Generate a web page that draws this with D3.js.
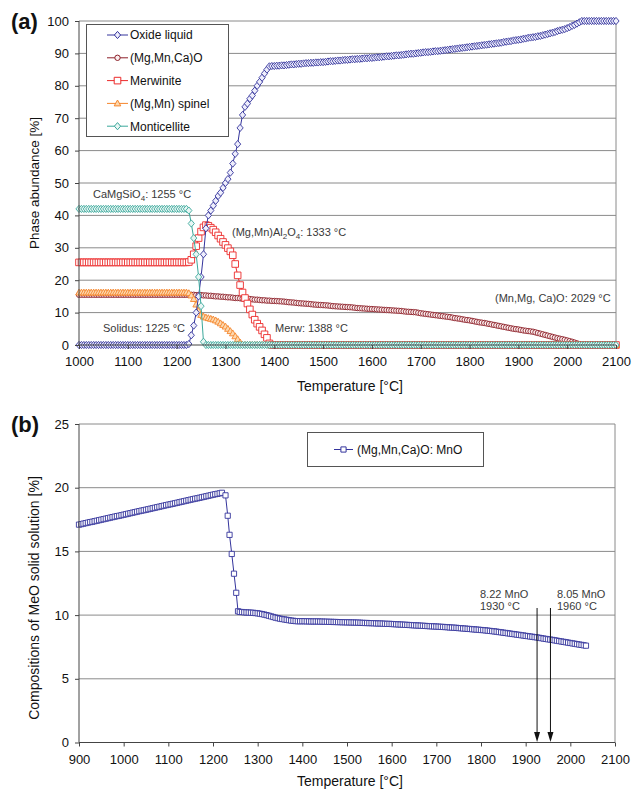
<!DOCTYPE html>
<html>
<head>
<meta charset="UTF-8">
<title>Phase abundance and MeO composition</title>
<script src="https://d3js.org/d3.v7.min.js"></script>
<style>
    body { margin: 0; background: #fff; }
    svg text { font-family: "Liberation Sans", Arial, sans-serif; fill: #111; }
    .tick text { font-size: 13px; }
    .axis path, .axis line { stroke: #444; }
    .grid line { stroke: #8a8a8a; stroke-width: 1; }
    .note { font-size: 11px; fill: #3a3a3a; }
    .legend text { font-size: 12px; }
</style>
</head>
<body>
<svg id="chart" width="633" height="789"></svg>
<script>
// ---------- panel (a) : phase abundance, 5 °C steps ----------
const tempA = d3.range(1000, 2101, 5);

const oxideLiquid = [
    0,0,0,0,0,0,0,0,0,0, 0,0,0,0,0,0,0,0,0,0, 0,0,0,0,0,0,0,0,0,0, 0,0,0,0,0,0,0,0,0,0, 0,0,0,0,
    0,0.3,3,6,10,15,21,28,36,40, 41.5,43,44.5,46,47,48.5,50,51.2,53.2,56,
    59,62,67,71,73.5,74.5,76,77,78.5,80, 81.2,82.5,83.8,85,86,86.1,
    86.1,86.2,86.2,86.3,86.3,86.4,86.5,86.6,86.6,86.7, 86.8,86.8,86.9,87.0,87.0,87.1,87.1,87.2,87.2,87.3,
    87.3,87.4,87.5,87.6,87.6,87.7,87.8,87.8,87.9,88.0, 88.0,88.1,88.2,88.2,88.3,88.3,88.4,88.5,88.5,88.6,
    88.6,88.7,88.8,88.8,88.9,89.0,89.1,89.1,89.2,89.3, 89.4,89.4,89.5,89.6,89.7,89.8,89.9,89.9,90.0,90.1,
    90.2,90.3,90.4,90.4,90.5,90.6,90.7,90.7,90.8,90.9, 91.0,91.1,91.2,91.3,91.4,91.5,91.6,91.7,91.8,91.9,
    92.0,92.1,92.2,92.3,92.4,92.5,92.6,92.7,92.8,92.9, 93.0,93.1,93.2,93.3,93.5,93.6,93.7,93.8,94.0,94.1,
    94.2,94.3,94.5,94.6,94.8,94.9,95.0,95.1,95.3,95.4, 95.6,95.8,96.0,96.2,96.4,96.6,96.9,97.1,97.3,97.5,
    97.8,98.1,98.5,98.8,99.2,99.6,100,100,100,100, 100,100,100,100,100,100,100,100,100,100,
    100
];
const mgMnCaO = [
    15.5,15.5,15.5,15.5,15.5,15.5,15.5,15.5,15.5,15.5, 15.5,15.5,15.5,15.5,15.5,15.5,15.5,15.5,15.5,15.5,
    15.5,15.5,15.5,15.5,15.5,15.5,15.5,15.5,15.5,15.5, 15.5,15.5,15.5,15.5,15.5,15.5,15.5,15.5,15.5,15.5,
    15.5,15.5,15.5,15.5,
    15.5,15.5,15.5,15.5,15.4,15.4,15.4,15.3,15.3,15.2, 15.2,15.1,15.0,15.0,14.9,14.9,14.8,14.7,14.7,14.6,
    14.5,14.5,14.4,14.3,14.3,14.2,14.2,14.1,14.0,14.0, 13.9,13.8,13.8,13.7,13.7,13.6,
    13.6,13.55,13.5,13.45,13.4,13.3,13.2,13.15,13.1,13.0, 12.9,12.85,12.8,12.75,12.7,12.6,12.5,12.45,12.4,12.35,
    12.3,12.25,12.2,12.1,12.0,11.95,11.9,11.85,11.8,11.75, 11.7,11.65,11.6,11.5,11.4,11.35,11.3,11.25,11.2,11.15,
    11.1,11.05,11.0,10.95,10.9,10.85,10.8,10.75,10.7,10.65, 10.6,10.55,10.5,10.4,10.3,10.25,10.2,10.15,10.1,9.95,
    9.8,9.7,9.6,9.5,9.4,9.3,9.2,9.1,9.0,8.9, 8.8,8.7,8.6,8.45,8.3,8.2,8.1,7.95,7.8,7.7,
    7.6,7.45,7.3,7.15,7.0,6.9,6.8,6.65,6.5,6.35, 6.2,6.05,5.9,5.75,5.6,5.45,5.3,5.15,5.0,4.9,
    4.8,4.65,4.5,4.4,4.3,4.2,4.1,3.9,3.7,3.5, 3.3,3.1,2.9,2.7,2.5,2.3,2.1,1.95,1.8,1.6,
    1.4,1.2,1.0,0.75,0.5,0.25,0,0,0,0, 0,0,0,0,0,0,0,0,0,0,
    0
];
const merwinite = [
    25.5,25.5,25.5,25.5,25.5,25.5,25.5,25.5,25.5,25.5, 25.5,25.5,25.5,25.5,25.5,25.5,25.5,25.5,25.5,25.5,
    25.5,25.5,25.5,25.5,25.5,25.5,25.5,25.5,25.5,25.5, 25.5,25.5,25.5,25.5,25.5,25.5,25.5,25.5,25.5,25.5,
    25.5,25.5,25.5,25.5,
    25.5,25.6,26.3,28.0,30.5,33.0,35.0,36.3,37.0,36.8, 36.2,35.6,34.8,33.8,32.8,31.8,30.9,29.9,28.9,27.7,
    25.0,21.5,18.5,16.2,14.5,12.8,11.0,9.4,7.8,6.6, 5.6,4.5,3.3,2.2,0.5,0,
    0,0,0,0,0,0,0,0,0,0, 0,0,0,0,0,0,0,0,0,0, 0,0,0,0,0,0,0,0,0,0, 0,0,0,0,0,0,0,0,0,0,
    0,0,0,0,0,0,0,0,0,0, 0,0,0,0,0,0,0,0,0,0, 0,0,0,0,0,0,0,0,0,0, 0,0,0,0,0,0,0,0,0,0,
    0,0,0,0,0,0,0,0,0,0, 0,0,0,0,0,0,0,0,0,0, 0,0,0,0,0,0,0,0,0,0, 0,0,0,0,0,0,0,0,0,0,
    0,0,0,0,0,0,0,0,0,0, 0,0,0,0,0,0,0,0,0,0, 0
];
const mgMnSpinel = [
    16.2,16.2,16.2,16.2,16.2,16.2,16.2,16.2,16.2,16.2, 16.2,16.2,16.2,16.2,16.2,16.2,16.2,16.2,16.2,16.2,
    16.2,16.2,16.2,16.2,16.2,16.2,16.2,16.2,16.2,16.2, 16.2,16.2,16.2,16.2,16.2,16.2,16.2,16.2,16.2,16.2,
    16.2,16.2,16.2,16.2,
    16.2,16.0,15.3,14.2,12.5,10.5,9.3,8.8,8.5,8.3, 8.1,7.9,7.6,7.2,6.7,6.2,5.7,5.0,4.3,3.6,
    2.7,1.8,0.8,0,0,0,0,0,0,0, 0,0,0,0,0,0,
    0,0,0,0,0,0,0,0,0,0, 0,0,0,0,0,0,0,0,0,0, 0,0,0,0,0,0,0,0,0,0, 0,0,0,0,0,0,0,0,0,0,
    0,0,0,0,0,0,0,0,0,0, 0,0,0,0,0,0,0,0,0,0, 0,0,0,0,0,0,0,0,0,0, 0,0,0,0,0,0,0,0,0,0,
    0,0,0,0,0,0,0,0,0,0, 0,0,0,0,0,0,0,0,0,0, 0,0,0,0,0,0,0,0,0,0, 0,0,0,0,0,0,0,0,0,0,
    0,0,0,0,0,0,0,0,0,0, 0,0,0,0,0,0,0,0,0,0, 0
];
const monticellite = [
    42,42,42,42,42,42,42,42,42,42, 42,42,42,42,42,42,42,42,42,42,
    42,42,42,42,42,42,42,42,42,42, 42,42,42,42,42,42,42,42,42,42,
    42,42,42,42,
    42,41.5,37.5,33,28,21,12,1,0,0, 0,0,0,0,0,0,0,0,0,0,
    0,0,0,0,0,0,0,0,0,0, 0,0,0,0,0,0,
    0,0,0,0,0,0,0,0,0,0, 0,0,0,0,0,0,0,0,0,0, 0,0,0,0,0,0,0,0,0,0, 0,0,0,0,0,0,0,0,0,0,
    0,0,0,0,0,0,0,0,0,0, 0,0,0,0,0,0,0,0,0,0, 0,0,0,0,0,0,0,0,0,0, 0,0,0,0,0,0,0,0,0,0,
    0,0,0,0,0,0,0,0,0,0, 0,0,0,0,0,0,0,0,0,0, 0,0,0,0,0,0,0,0,0,0, 0,0,0,0,0,0,0,0,0,0,
    0,0,0,0,0,0,0,0,0,0, 0,0,0,0,0,0,0,0,0,0, 0
];

// ---------- panel (b) : MnO in (Mg,Mn,Ca)O ----------
const tempB = d3.range(900, 1221, 5).concat([1228, 1233, 1237, 1242, 1247, 1252, 1256], d3.range(1260, 2036, 5));
const mnO = [
    17.10,17.14,17.18,17.22,17.26,17.30,17.33,17.37,17.41,17.45,
    17.49,17.53,17.57,17.61,17.65,17.69,17.73,17.77,17.80,17.84,
    17.88,17.92,17.96,18.00,18.04,18.08,18.12,18.16,18.20,18.23,
    18.27,18.31,18.35,18.39,18.43,18.47,18.51,18.55,18.59,18.63,
    18.67,18.70,18.74,18.78,18.82,18.86,18.90,18.94,18.98,19.02,
    19.06,19.10,19.14,19.17,19.21,19.25,19.29,19.33,19.37,19.41,
    19.45,19.49,19.52,19.56,19.60,
    19.4,17.8,16.3,14.8,13.25,11.75,10.3,
    10.25,10.24,10.22,10.21,10.20,10.19,10.18,10.16,10.14,10.11,
    10.08,10.04,10.00,9.95,9.90,9.85,9.80,9.76,9.72,9.69,
    9.66,9.63,9.60,9.57,9.55,9.53,9.52,9.52,9.52,9.52,
    9.51,9.51,9.50,9.50,9.50,9.50,9.49,9.49,9.48,9.48,
    9.47,9.47,9.46,9.46,9.45,9.45,9.44,9.44,9.43,9.43,
    9.42,9.42,9.41,9.41,9.40,9.39,9.38,9.38,9.37,9.37,
    9.36,9.35,9.34,9.34,9.33,9.32,9.31,9.31,9.30,9.29,
    9.28,9.27,9.26,9.25,9.24,9.23,9.22,9.21,9.20,9.19,
    9.18,9.17,9.16,9.15,9.14,9.13,9.12,9.11,9.10,9.09,
    9.08,9.07,9.06,9.05,9.03,9.02,9.01,9.00,8.98,8.97,
    8.95,8.94,8.92,8.91,8.89,8.88,8.86,8.85,8.83,8.82,
    8.80,8.78,8.76,8.74,8.72,8.70,8.67,8.65,8.62,8.60,
    8.57,8.55,8.52,8.50,8.47,8.45,8.42,8.40,8.37,8.35,
    8.32,8.30,8.27,8.25,8.22,8.19,8.16,8.13,8.10,8.08,
    8.05,8.02,7.99,7.96,7.93,7.90,7.87,7.84,7.81,7.78,
    7.75,7.72,7.69,7.66,7.63,7.60
];

const ticksXA = d3.range(1000, 2101, 100);
const ticksYA = d3.range(0, 101, 10);
const ticksXB = d3.range(900, 2101, 100);
const ticksYB = d3.range(0, 26, 5);

const shapes = {
    diamond: "M0,-3.6L3.1,0L0,3.6L-3.1,0Z",
    circle: "M-2.7,0A2.7,2.7 0 1,0 2.7,0A2.7,2.7 0 1,0 -2.7,0Z",
    square: "M-3.3,-3.3H3.3V3.3H-3.3Z",
    smallSquare: "M-2.6,-2.6H2.6V2.6H-2.6Z",
    triangle: "M0,-3.4L3.3,2.5H-3.3Z"
};

const seriesA = [
    {name: "Oxide liquid", values: oxideLiquid, color: "#34349c", fill: "#eeeefc", shape: "diamond"},
    {name: "(Mg,Mn,Ca)O", values: mgMnCaO, color: "#8c1f28", fill: "#fbeeee", shape: "circle"},
    {name: "Merwinite", values: merwinite, color: "#ec2a2a", fill: "#ffffff", shape: "square"},
    {name: "(Mg,Mn) spinel", values: mgMnSpinel, color: "#f5862c", fill: "#fcd9b0", shape: "triangle"},
    {name: "Monticellite", values: monticellite, color: "#3ba89b", fill: "#e8f6f4", shape: "diamond"}
];
// drawing order (last on top)
const drawOrder = [1, 2, 3, 0, 4];

const svg = d3.select("#chart");

const xA = d3.scaleLinear().domain([1000, 2100]).range([79, 616]);
const yA = d3.scaleLinear().domain([0, 100]).range([345, 21]);
const xB = d3.scaleLinear().domain([900, 2100]).range([79, 615]);
const yB = d3.scaleLinear().domain([0, 25]).range([742.5, 424]);

function drawFrame(x, y, yt) {
    const g = svg.append("g").attr("class", "grid");
    g.selectAll("line.h").data(yt.filter(d => d > 0)).join("line")
        .attr("x1", x.range()[0]).attr("x2", x.range()[1])
        .attr("y1", d => y(d)).attr("y2", d => y(d));
    g.append("line")
        .attr("x1", x.range()[1]).attr("x2", x.range()[1])
        .attr("y1", y.range()[1]).attr("y2", y.range()[0]);
}

function drawAxes(x, y, xt, yt, pad) {
    svg.append("g").attr("class", "axis")
        .attr("transform", `translate(0,${y.range()[0]})`)
        .call(d3.axisBottom(x).tickValues(xt).tickSize(4).tickPadding(pad).tickFormat(d3.format("d")))
        .call(g => g.select(".domain").attr("d", `M${x.range()[0]},0H${x.range()[1]}`));
    svg.append("g").attr("class", "axis")
        .attr("transform", `translate(${x.range()[0]},0)`)
        .call(d3.axisLeft(y).tickValues(yt).tickSize(4).tickPadding(6).tickFormat(d3.format("d")))
        .call(g => g.select(".domain").attr("d", `M0,${y.range()[1]}V${y.range()[0]}`));
    svg.selectAll(".axis text").attr("fill", "#111");
}

function drawSeries(temps, values, x, y, color, fill, shape) {
    const pts = temps.map((t, i) => [t, values[i]]);
    const g = svg.append("g");
    g.append("path").datum(pts)
        .attr("fill", "none").attr("stroke", color).attr("stroke-width", 1)
        .attr("d", d3.line().x(d => x(d[0])).y(d => y(d[1])));
    g.selectAll("path.m").data(pts).join("path")
        .attr("class", "m")
        .attr("d", shapes[shape])
        .attr("transform", d => `translate(${x(d[0])},${y(d[1])})`)
        .attr("fill", fill).attr("stroke", color).attr("stroke-width", 0.9);
}

// panel (a)
drawFrame(xA, yA, ticksYA);
drawOrder.forEach(i => {
    const s = seriesA[i];
    drawSeries(tempA, s.values, xA, yA, s.color, s.fill, s.shape);
});
drawAxes(xA, yA, ticksXA, ticksYA, 8);

// legend (a)
const legA = svg.append("g").attr("class", "legend");
legA.append("rect").attr("x", 86.5).attr("y", 24.5).attr("width", 142).attr("height", 112)
    .attr("fill", "#fff").attr("stroke", "#555");
seriesA.forEach((s, i) => {
    const cy = 35 + i * 22.8;
    legA.append("line").attr("x1", 107).attr("x2", 128).attr("y1", cy).attr("y2", cy)
        .attr("stroke", s.color).attr("stroke-width", 1);
    legA.append("path").attr("d", shapes[s.shape]).attr("transform", `translate(117.5,${cy})`)
        .attr("fill", s.fill).attr("stroke", s.color);
    legA.append("text").attr("x", 130).attr("y", cy + 4.3).text(s.name);
});

// annotations (a)
function note(x, y, parts) {
    const t = svg.append("text").attr("class", "note").attr("x", x).attr("y", y);
    let low = false;
    parts.forEach(p => {
        if (typeof p === "string") {
            t.append("tspan").attr("dy", low ? -3 : 0).text(p);
            low = false;
        } else {
            t.append("tspan").attr("dy", low ? 0 : 3).attr("font-size", "8px").text(p.sub);
            low = true;
        }
    });
}
note(93, 198, ["CaMgSiO", {sub: "4"}, ": 1255 °C"]);
note(232, 236, ["(Mg,Mn)Al", {sub: "2"}, "O", {sub: "4"}, ": 1333 °C"]);
note(103, 331.5, ["Solidus: 1225 °C"]);
note(275, 331.5, ["Merw: 1388 °C"]);
note(495, 302, ["(Mn,Mg, Ca)O: 2029 °C"]);

svg.append("text").attr("x", 11).attr("y", 29).attr("font-size", "22px").attr("font-weight", "bold").text("(a)");
svg.append("text").attr("x", 350).attr("y", 390.5).attr("text-anchor", "middle").attr("font-size", "14px")
    .text("Temperature [°C]");
svg.append("text").attr("transform", "translate(39,183) rotate(-90)").attr("text-anchor", "middle")
    .attr("font-size", "13.5px").text("Phase abundance [%]");

// panel (b)
drawFrame(xB, yB, ticksYB);
drawSeries(tempB, mnO, xB, yB, "#34349c", "#ffffff", "smallSquare");
drawAxes(xB, yB, ticksXB, ticksYB, 8);

const legB = svg.append("g").attr("class", "legend");
legB.append("rect").attr("x", 307.5).attr("y", 432.5).attr("width", 176).attr("height", 34)
    .attr("fill", "#fff").attr("stroke", "#555");
legB.append("line").attr("x1", 334).attr("x2", 353).attr("y1", 449.5).attr("y2", 449.5)
    .attr("stroke", "#34349c");
legB.append("path").attr("d", shapes.smallSquare).attr("transform", "translate(343.5,449.5)")
    .attr("fill", "#fff").attr("stroke", "#34349c");
legB.append("text").attr("x", 357).attr("y", 453.8).text("(Mg,Mn,Ca)O: MnO");

// arrows (b)
const arrows = [
    {t: 1930, mno: "8.22 MnO", label: "1930 °C"},
    {t: 1960, mno: "8.05 MnO", label: "1960 °C"}
];
arrows.forEach((a, i) => {
    const ax = xB(a.t) - 2;
    svg.append("line").attr("x1", ax).attr("x2", ax).attr("y1", 608).attr("y2", 732.5)
        .attr("stroke", "#111").attr("stroke-width", 1);
    svg.append("path").attr("d", `M${ax - 3},732L${ax + 3},732L${ax},742Z`).attr("fill", "#111");
    const tx = i === 0 ? 480 : 557;
    svg.append("text").attr("class", "note").attr("font-size", "10.5px").attr("x", tx).attr("y", 598).text(a.mno);
    svg.append("text").attr("class", "note").attr("font-size", "10.5px").attr("x", tx).attr("y", 610).text(a.label);
});

svg.append("text").attr("x", 11).attr("y", 432).attr("font-size", "22px").attr("font-weight", "bold").text("(b)");
svg.append("text").attr("x", 350).attr("y", 786).attr("text-anchor", "middle").attr("font-size", "14px")
    .text("Temperature [°C]");
svg.append("text").attr("transform", "translate(39,598) rotate(-90)").attr("text-anchor", "middle")
    .attr("font-size", "14px").text("Compositions of MeO solid solution [%]");
</script>
</body>
</html>
